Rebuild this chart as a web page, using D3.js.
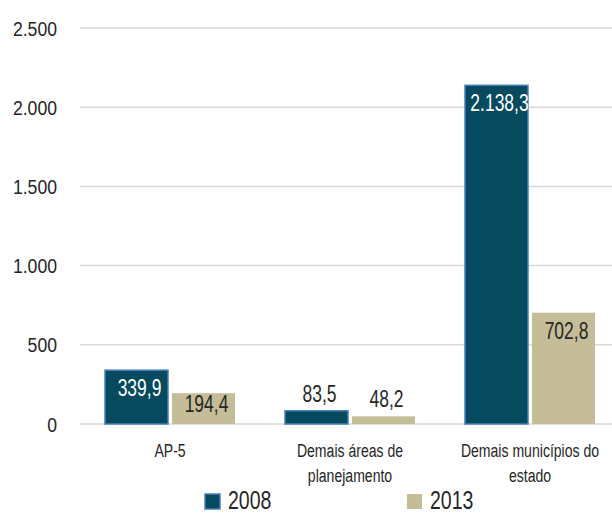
<!DOCTYPE html>
<html>
<head>
<meta charset="utf-8">
<script src="https://cdn.jsdelivr.net/npm/d3@7"></script>
<style>
  html, body { margin: 0; padding: 0; background: #fff; }
  svg { display: block; }
  text { font-family: "Liberation Sans", Arial, sans-serif; }
</style>
</head>
<body>
<svg id="chart" width="612" height="515"></svg>
<script>
// Data
const categories = [["AP-5"], ["Demais áreas de", "planejamento"], ["Demais municípios do", "estado"]];
const years = ["2008", "2013"];
const values2008 = [339.9, 83.5, 2138.3];
const values2013 = [194.4, 48.2, 702.8];
const yTicks = [0, 500, 1000, 1500, 2000, 2500];

const colors = { "2008": "#054a5e", "2013": "#c4bd97" };
const labelColors = { "2008": "#ffffff", "2013": "#262626" };
const ink = "#262626";

const svg = d3.select("#chart");
const W = 612, H = 515;
const plotLeft = 80, plotRight = 620, plotTop = 28, plotBottom = 424;

const x0 = d3.scaleBand().domain(d3.range(categories.length)).range([plotLeft, plotRight]).paddingInner(0).paddingOuter(0);
const x1 = d3.scaleBand().domain(years).range([25, x0.bandwidth() - 25]).paddingInner(0.06);
const y = d3.scaleLinear().domain([0, 2500]).range([plotBottom, plotTop]);

const fmt = v => {
  const s = v.toFixed(1).split(".");
  const intPart = s[0].replace(/\B(?=(\d{3})+(?!\d))/g, ".");
  return intPart + "," + s[1];
};

// Condensed text: a regular face squeezed horizontally around its anchor point
function narrowText(parent, x, yPos, lines, size, anchor, sx, fill, lineGap) {
  const g = parent.append("g").attr("transform", `translate(${x},${yPos}) scale(${sx},1)`);
  const t = g.append("text")
    .attr("text-anchor", anchor)
    .attr("font-size", size)
    .attr("fill", fill);
  [].concat(lines).forEach((ln, j) => {
    t.append("tspan").attr("x", 0).attr("dy", j === 0 ? 0 : (lineGap || 0)).text(ln);
  });
  return g;
}

// Gridlines
svg.append("g").selectAll("line").data(yTicks).join("line")
  .attr("x1", plotLeft).attr("x2", W)
  .attr("y1", d => y(d)).attr("y2", d => y(d))
  .attr("stroke", "#d9d9d9").attr("stroke-width", 1.5);

// Y axis labels
const yAxisG = svg.append("g");
yTicks.forEach(d => {
  narrowText(yAxisG, 57, y(d) + 7.5, d === 0 ? "0" : d3.format(",")(d).replace(/,/g, "."), 21, "end", 0.84, ink);
});

// Bars
const rows = [];
categories.forEach((c, i) => {
  rows.push({ i, year: "2008", v: values2008[i] });
  rows.push({ i, year: "2013", v: values2013[i] });
});

const bars = svg.append("g");
bars.selectAll("rect").data(rows).join("rect")
  .attr("x", d => x0(d.i) + x1(d.year))
  .attr("y", d => y(d.v))
  .attr("width", x1.bandwidth())
  .attr("height", d => y(0) - y(d.v))
  .attr("fill", d => colors[d.year])
  .attr("stroke", d => d.year === "2008" ? "#4a7ebb" : "none")
  .attr("stroke-width", 1.5);

// Value labels: inside the bar top when it fits, above otherwise
const labelsG = svg.append("g");
rows.forEach(d => {
  const h = y(0) - y(d.v);
  const inside = h > 25;
  const ly = inside ? y(d.v) + Math.min(26, h * 0.6) : y(d.v) - 9;
  const lx = x0(d.i) + x1(d.year) + x1.bandwidth() / 2 + 3;
  narrowText(labelsG, lx, ly, fmt(d.v), 23, "middle", 0.76, inside ? labelColors[d.year] : ink);
});

// Category labels
const cat = svg.append("g");
categories.forEach((lines, i) => {
  narrowText(cat, x0(i) + x0.bandwidth() / 2, 457, lines, 19, "middle", 0.74, ink, 25);
});

// Legend
const legendX = [205, 407];
const legend = svg.append("g");
years.forEach((yr, k) => {
  legend.append("rect")
    .attr("x", legendX[k]).attr("y", 494)
    .attr("width", 15).attr("height", 15)
    .attr("fill", colors[yr])
    .attr("stroke", yr === "2008" ? "#4a7ebb" : "none")
    .attr("stroke-width", 1.5);
  narrowText(legend, legendX[k] + 23, 509, yr, 26, "start", 0.75, ink);
});
</script>
</body>
</html>
